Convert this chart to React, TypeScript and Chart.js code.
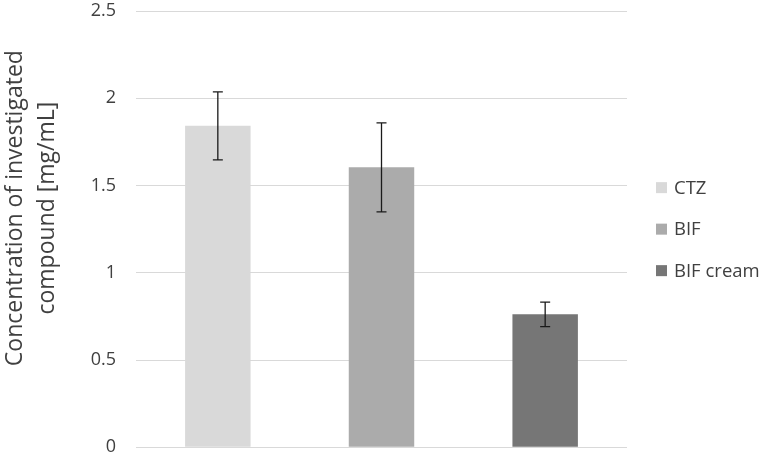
import React, { useEffect, useRef } from "react";
import { Chart, registerables } from "chart.js";

Chart.register(...registerables);

const categories = ["CTZ", "BIF", "BIF cream"];
const values = [1.842, 1.604, 0.762];
const errors = [0.195, 0.255, 0.07];
const yTicks = [0, 0.5, 1, 1.5, 2, 2.5];
const titleLines = ["Concentration of investigated", "compound [mg/mL]"];

const barColors = ["#d9d9d9", "#ababab", "#767676"];
const FONT = "'Open Sans', sans-serif";

const errorBarPlugin = {
  id: "errorBars",
  afterDatasetsDraw(chart: any) {
    const ctx = chart.ctx;
    const y = chart.scales.y;
    ctx.save();
    ctx.strokeStyle = "#1a1a1a";
    ctx.lineWidth = 1.3;
    categories.forEach((_, i) => {
      const meta = chart.getDatasetMeta(i);
      const el = meta.data[i];
      if (!el) return;
      const x = el.x;
      const top = y.getPixelForValue(values[i] + errors[i]);
      const bot = y.getPixelForValue(values[i] - errors[i]);
      ctx.beginPath();
      ctx.moveTo(x, top);
      ctx.lineTo(x, bot);
      ctx.moveTo(x - 5, top);
      ctx.lineTo(x + 5, top);
      ctx.moveTo(x - 5, bot);
      ctx.lineTo(x + 5, bot);
      ctx.stroke();
    });
    ctx.restore();
  },
};

const legendPlugin = {
  id: "sideLegend",
  afterDraw(chart: any) {
    const ctx = chart.ctx;
    const area = chart.chartArea;
    const cy = (area.top + area.bottom) / 2;
    const spacing = 41.5;
    const n = chart.data.datasets.length;
    ctx.save();
    ctx.font = `18.5px ${FONT}`;
    ctx.textBaseline = "middle";
    ctx.textAlign = "left";
    chart.data.datasets.forEach((ds: any, i: number) => {
      const yy = cy + (i - (n - 1) / 2) * spacing;
      const bx = area.right + 29;
      ctx.fillStyle = ds.backgroundColor;
      ctx.fillRect(bx, yy - 5.5, 11, 11);
      ctx.fillStyle = "#404040";
      ctx.fillText(ds.label, bx + 18, yy + 1);
    });
    ctx.restore();
  },
};

const axisTitlePlugin = {
  id: "axisTitle",
  afterDraw(chart: any) {
    const ctx = chart.ctx;
    const area = chart.chartArea;
    const cy = (area.top + area.bottom) / 2 - 21;
    ctx.save();
    ctx.font = `23px ${FONT}`;
    ctx.fillStyle = "#404040";
    ctx.textAlign = "center";
    ctx.textBaseline = "middle";
    const xs = [15, 47];
    titleLines.forEach((t, i) => {
      ctx.save();
      ctx.translate(xs[i], cy);
      ctx.rotate(-Math.PI / 2);
      ctx.fillText(t, 0, 0);
      ctx.restore();
    });
    ctx.restore();
  },
};

export default function App() {
  const ref = useRef<HTMLCanvasElement>(null);
  useEffect(() => {
    document.body.style.margin = "0";
    const chart = new Chart(ref.current as HTMLCanvasElement, {
      type: "bar",
      data: {
        labels: categories,
        datasets: categories.map((c, i) => ({
          label: c,
          data: values.map((v, j) => (j === i ? v : null)),
          backgroundColor: barColors[i],
          borderWidth: 0,
        })),
      },
      options: {
        animation: false,
        responsive: false,
        skipNull: true,
        barPercentage: 0.4,
        categoryPercentage: 1,
        layout: { padding: { top: 11, bottom: 11.7, left: 0, right: 140 } },
        plugins: {
          legend: { display: false },
          tooltip: { enabled: false },
          title: { display: false },
        },
        scales: {
          x: {
            display: false,
            grid: { display: false },
          },
          y: {
            min: 0,
            max: 2.5,
            afterFit: (scale: any) => {
              scale.width = 136;
            },
            afterBuildTicks: (scale: any) => {
              scale.ticks = yTicks.map((v) => ({ value: v }));
            },
            border: { display: false },
            grid: {
              color: "#d9d9d9",
              lineWidth: 1,
              drawTicks: true,
              tickLength: 20,
              tickColor: "rgba(0,0,0,0)",
            },
            ticks: {
              padding: 0,
              color: "#404040",
              font: { family: FONT, size: 18 },
              callback: (v: any) => String(v),
            },
          },
        },
      } as any,
      plugins: [errorBarPlugin, legendPlugin, axisTitlePlugin],
    });
    return () => chart.destroy();
  }, []);
  return (
    <div style={{ width: 767, height: 459 }}>
      <canvas ref={ref} width={767} height={459} style={{ display: "block" }} />
    </div>
  );
}
